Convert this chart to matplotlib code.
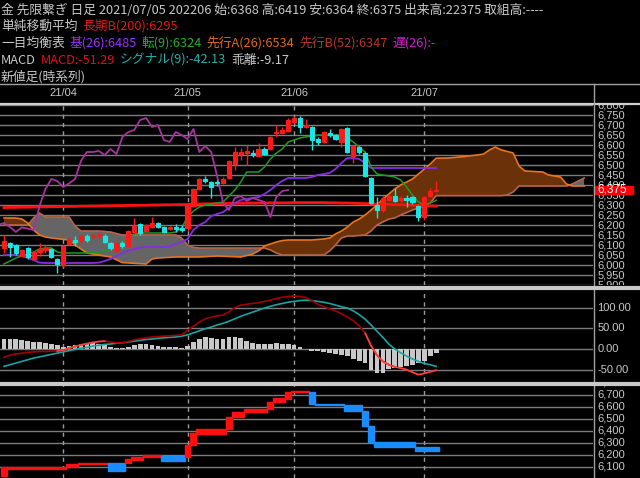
import matplotlib
matplotlib.use("Agg")
import matplotlib.pyplot as plt
import numpy as np
from matplotlib.patches import Rectangle

W, H = 640, 478
JP = ["Noto Sans CJK JP", "DejaVu Sans"]
NUM = ["Liberation Sans", "DejaVu Sans"]

# ---- daily candles (index 0 = 2021/03/18 ... 73 = 2021/07/05)
opens = [6085, 6110, 6100, 6045, 6085, 6030, 6065, 6075, 6080, 6030,
         6000, 6105, 6125, 6120, 6145, 6140, 6145, 6145, 6110, 6070,
         6110, 6095, 6165, 6205, 6170, 6190, 6210, 6190, 6180, 6190,
         6185, 6185, 6295, 6380, 6430, 6415, 6415, 6410, 6435, 6505,
         6555, 6560, 6560, 6545, 6580, 6580, 6660, 6660, 6670, 6715,
         6735, 6690, 6690, 6630, 6615, 6660, 6650, 6615, 6685, 6545,
         6590, 6560, 6435, 6300, 6275, 6325, 6345, 6325, 6335, 6340,
         6295, 6240, 6345, 6368]
highs = [6150, 6115, 6105, 6080, 6090, 6070, 6110, 6100, 6085, 6035,
         6100, 6140, 6145, 6160, 6155, 6160, 6170, 6155, 6115, 6115,
         6120, 6175, 6235, 6210, 6205, 6240, 6215, 6195, 6195, 6205,
         6200, 6300, 6385, 6435, 6445, 6420, 6425, 6440, 6525, 6590,
         6585, 6600, 6575, 6610, 6590, 6645, 6700, 6690, 6735, 6745,
         6745, 6730, 6695, 6640, 6670, 6680, 6655, 6685, 6690, 6600,
         6595, 6565, 6440, 6340, 6345, 6355, 6385, 6345, 6350, 6345,
         6300, 6345, 6385, 6419]
lows = [6060, 6040, 6050, 6040, 6030, 6025, 6045, 6060, 6035, 5960,
        5990, 6100, 6095, 6110, 6115, 6130, 6135, 6110, 6075, 6065,
        6085, 6090, 6160, 6150, 6165, 6185, 6185, 6160, 6175, 6165,
        6165, 6170, 6290, 6375, 6410, 6335, 6395, 6405, 6430, 6475,
        6525, 6500, 6540, 6540, 6550, 6575, 6640, 6655, 6665, 6710,
        6660, 6685, 6575, 6600, 6610, 6640, 6625, 6590, 6560, 6510,
        6555, 6440, 6305, 6235, 6265, 6320, 6315, 6315, 6290, 6305,
        6220, 6225, 6340, 6364]
closes = [6120, 6090, 6060, 6075, 6040, 6065, 6080, 6085, 6040, 6005,
          6095, 6130, 6115, 6145, 6125, 6150, 6155, 6115, 6085, 6110,
          6095, 6170, 6195, 6160, 6200, 6210, 6190, 6165, 6188, 6182,
          6175, 6295, 6380, 6430, 6420, 6390, 6408, 6430, 6520, 6565,
          6565, 6570, 6550, 6580, 6555, 6640, 6665, 6675, 6725, 6735,
          6690, 6700, 6625, 6615, 6665, 6650, 6630, 6680, 6565, 6595,
          6565, 6445, 6310, 6275, 6335, 6345, 6320, 6335, 6325, 6315,
          6240, 6340, 6370, 6375]

sma200 = [6287, 6288, 6288, 6289, 6289, 6290, 6290, 6291, 6291, 6292,
          6292, 6293, 6293, 6294, 6294, 6295, 6295, 6296, 6296, 6297,
          6297, 6298, 6298, 6299, 6299, 6300, 6300, 6301, 6301, 6302,
          6302, 6303, 6304, 6305, 6306, 6306, 6307, 6307, 6308, 6308,
          6309, 6309, 6310, 6310, 6310, 6311, 6311, 6311, 6311, 6312,
          6312, 6312, 6312, 6312, 6312, 6311, 6311, 6310, 6310, 6309,
          6308, 6307, 6306, 6305, 6304, 6303, 6302, 6301, 6300, 6299,
          6298, 6297, 6296, 6295]
tenkan = [6005, 6020, 6035, 6045, 6055, 6065, 6080, 6085, 6085, 6065,
          6060, 6060, 6060, 6060, 6060, 6062, 6065, 6070, 6080, 6090,
          6115, 6135, 6155, 6160, 6160, 6160, 6160, 6160, 6160, 6165,
          6185, 6240, 6270, 6290, 6300, 6305, 6310, 6315, 6345, 6375,
          6415, 6465, 6465, 6465, 6490, 6530, 6560, 6580, 6615, 6625,
          6635, 6640, 6645, 6650, 6650, 6650, 6650, 6650, 6635, 6615,
          6590, 6565, 6490, 6455, 6450, 6445, 6440, 6425, 6390, 6350,
          6315, 6300, 6310, 6324]
kijun = [6050, 6050, 6050, 6045, 6035, 6025, 6012, 6010, 6010, 6010,
         6010, 6010, 6010, 6010, 6010, 6010, 6012, 6020, 6030, 6045,
         6060, 6072, 6080, 6088, 6090, 6090, 6090, 6090, 6095, 6105,
         6115, 6130, 6175, 6200, 6215, 6245, 6255, 6265, 6285, 6310,
         6325, 6330, 6335, 6340, 6355, 6375, 6400, 6420, 6435, 6435,
         6435, 6435, 6440, 6450, 6455, 6460, 6480, 6510, 6535, 6535,
         6530, 6510, 6485, 6485, 6485, 6485, 6485, 6485, 6485, 6485,
         6485, 6485, 6485, 6485]

# leading spans (already placed 25 days ahead)
cloud_day = [0, 2, 3, 4, 5, 6, 7, 8, 10, 11, 12, 13, 14, 16, 18, 20, 24, 25, 26, 29,
             30, 31, 32, 33, 36, 40, 42, 43, 44, 45, 46, 47, 48, 52, 54, 55, 56, 57, 58, 59,
             60, 61, 62, 63, 64, 65, 66, 67, 68, 69, 70, 71, 72, 73, 75, 77, 80, 81, 82, 83,
             84, 85, 86, 87, 88, 91, 92, 94, 95, 96, 97, 98]
span_a = [6235, 6235, 6230, 6210, 6175, 6150, 6140, 6135, 6128, 6125, 6100, 6080, 6060, 6050, 6040, 6012, 6005, 6030, 6035, 6040,
          6040, 6040, 6040, 6040, 6045, 6040, 6055, 6070, 6095, 6105, 6115, 6122, 6125, 6125, 6130, 6135, 6155, 6170, 6190, 6215,
          6230, 6250, 6275, 6300, 6330, 6355, 6380, 6400, 6415, 6430, 6455, 6480, 6505, 6534, 6535, 6540, 6550, 6555, 6575, 6590,
          6575, 6568, 6560, 6495, 6470, 6465, 6450, 6440, 6405, 6395, 6395, 6395]
span_b = [6200, 6200, 6200, 6200, 6235, 6260, 6240, 6240, 6240, 6240, 6195, 6170, 6170, 6170, 6165, 6150, 6150, 6150, 6150, 6150,
          6135, 6100, 6088, 6085, 6085, 6085, 6085, 6085, 6085, 6075, 6060, 6050, 6050, 6050, 6050, 6070, 6100, 6135, 6145, 6145,
          6148, 6150, 6170, 6200, 6215, 6230, 6235, 6250, 6262, 6275, 6285, 6295, 6310, 6347, 6347, 6347, 6347, 6347, 6347, 6347,
          6347, 6350, 6365, 6395, 6395, 6395, 6395, 6395, 6395, 6405, 6420, 6435]

# MACD panel
macd = [-20, -15, -12, -10, -8, -7, -6, -6, -5, -5,
        -3, 2, 6, 10, 13, 16, 18, 19, 17, 15,
        15, 18, 22, 25, 27, 29, 30, 31, 32, 33,
        34, 45, 55, 65, 73, 77, 80, 82, 90, 100,
        106, 108, 110, 112, 115, 118, 122, 125, 127, 128,
        127, 124, 117, 108, 102, 97, 92, 85, 77, 68,
        56, 38, 8, -15, -30, -38, -43, -46, -50, -56,
        -62, -59, -55, -51.29]
signal = [-42, -38, -34, -30, -26, -22, -19, -16, -13, -10,
          -7, -4, -1, 2, 4, 7, 9, 11, 12, 14,
          15, 17, 19, 21, 23, 24, 26, 27, 28, 29,
          31, 34, 39, 44, 49, 53, 58, 62, 67, 73,
          79, 84, 89, 94, 99, 103, 107, 110, 113, 115,
          117, 118, 117, 115, 113, 110, 106, 102, 99, 92,
          83, 72, 58, 43, 28, 12, 0, -9, -17, -24,
          -30, -35, -38, -42.13]
hist = [24, 24, 23, 21, 19, 18, 16, 15, 13, 9,
        4, 7, 10, 12, 14, 14, 13, 9, 6, 3,
        2, 5, 10, 11, 11, 10, 8, 6, 5, 4,
        3, 8, 18, 25, 28, 26, 24, 25, 28, 29,
        26, 20, 14, 12, 13, 13, 14, 13, 12, 10,
        5, 0, -4, -6, -8, -10, -12, -14, -17, -25,
        -30, -35, -50, -57, -58, -48, -45, -44, -42, -38,
        -35, -28, -18, -9.17]

# new-price chart (time series): segments of days with from/to prices
nb_start = [0, 1, 11, 13, 18, 21, 22, 24, 27, 31, 32, 33, 38, 39, 41, 45, 46, 48, 49, 52, 53, 58, 61, 62, 63, 70]
nb_end = [0, 10, 12, 17, 20, 21, 23, 26, 30, 31, 32, 37, 38, 40, 44, 45, 47, 48, 51, 52, 57, 60, 61, 62, 69, 73]
nb_from = [6025, 6080, 6100, 6125, 6135, 6135, 6160, 6185, 6190, 6185, 6285, 6375, 6415, 6515, 6560, 6580, 6645, 6670, 6725,
           6725, 6625, 6620, 6565, 6445, 6310, 6270]
nb_to = [6100, 6100, 6125, 6135, 6065, 6165, 6185, 6200, 6150, 6285, 6380, 6415, 6515, 6560, 6580, 6645, 6675, 6725, 6735,
         6625, 6615, 6565, 6445, 6305, 6270, 6230]

month_idx = [10, 31, 49, 71]
month_lbl = ["21/04", "21/05", "21/06", "21/07"]

fig = plt.figure(figsize=(6.4, 4.78), dpi=100, facecolor="black")
XL = (-4 / 5.92, 589 / 5.92)
GRID = "#7c7c7c"
LBL = "#c8c8c8"


def px_axes(x0, y0, x1, y1):
    ax = fig.add_axes([x0 / W, 1 - y1 / H, (x1 - x0) / W, (y1 - y0) / H])
    ax.set_facecolor("black")
    for s in ax.spines.values():
        s.set_visible(False)
    ax.set_xticks([])
    ax.set_yticks([])
    return ax


days = np.arange(len(closes))

# ---- price panel
price = px_axes(0, 104, 593, 285)
price.set_xlim(XL)
price.set_ylim(5900, 6805)
for p in range(5900, 6801, 50):
    price.axhline(p, color=GRID, lw=1, zorder=0)
for m in month_idx:
    price.axvline(m, color="#9a9a9a", lw=1, ls=(0, (3, 3)), zorder=1)

cd = np.array(cloud_day)
ca = np.array(span_a)
cb = np.array(span_b)
price.fill_between(cd, ca, cb, where=ca >= cb, interpolate=True, color="#6b3108", lw=0, zorder=2)
price.fill_between(cd, ca, cb, where=ca < cb, interpolate=True, color="#656565", lw=0, zorder=2)
price.plot(cd, cb, color="#b8644a", lw=1.2, zorder=3)
price.plot(cd, ca, color="#e8741e", lw=1.2, zorder=3)

price.plot(days, sma200, color="#ff1010", lw=2, zorder=4)
price.plot(days, kijun, color="#8a2be2", lw=1.3, zorder=4)
price.plot(days, tenkan, color="#1f9a1f", lw=1.1, zorder=4)
price.plot(days - 25, closes, color="#a8329e", lw=1.3, zorder=4)

o = np.array(opens)
c = np.array(closes)
up = c >= o
cols = np.where(up, "#ff1a1a", "#1ae6e6")
price.vlines(days, lows, highs, colors=cols, lw=1, zorder=5)
price.bar(days, np.abs(c - o), bottom=np.minimum(o, c), width=0.7, color=cols,
          edgecolor=cols, lw=0.8, zorder=6)

# ---- MACD panel
mac = px_axes(0, 290, 593, 381)
mac.set_xlim(XL)
mac.set_ylim(-77.3, 142.5)
for v in [100, 50, 0, -50]:
    mac.axhline(v, color=GRID, lw=1, zorder=0)
for m in month_idx:
    mac.axvline(m, color="#9a9a9a", lw=1, ls=(0, (3, 3)), zorder=1)
mac.bar(days, hist, width=0.8, color="#c8c8c8", zorder=2)
mac.plot(days, signal, color="#1aa3a3", lw=1.2, zorder=3)
mac.plot(days, macd, color="#a00000", lw=1.2, zorder=4)
mac.plot(days[9:18], macd[9:18], color="#ff4040", lw=1.2, zorder=4)
mac.plot(days[61:], macd[61:], color="#ff4040", lw=1.2, zorder=4)

# ---- new-price panel
nb = px_axes(0, 385, 593, 478)
nb.set_xlim(XL)
nb.set_ylim(6008, 6783)
for p in range(6100, 6801, 100):
    nb.axhline(p, color=GRID, lw=1, zorder=0)
for m in month_idx:
    nb.axvline(m, color="#9a9a9a", lw=1, ls=(0, (3, 3)), zorder=1)
for s, e, f, t in zip(nb_start, nb_end, nb_from, nb_to):
    col = "#ff1010" if t > f else "#1a8cff"
    nb.bar(s - 0.5, abs(t - f), width=e - s + 1, bottom=min(f, t), align="edge",
           color=col, edgecolor=col, lw=1, zorder=3)

# ---- right-hand scales
ps = px_axes(593, 104, 640, 285)
ps.set_xlim(0, 1)
ps.set_ylim(5900, 6805)
for p in range(5900, 6801, 50):
    if p in (6350, 6400):
        # partly covered by the last-price box
        ps.text(0.09, p, f"{p:,}", color=LBL, fontsize=8, va="center", ha="left",
                family=NUM, clip_on=True, zorder=1)
        continue
    ps.text(0.09, p, f"{p:,}", color=LBL, fontsize=8, va="center", ha="left",
            family=NUM, clip_on=True)
ps.add_patch(Rectangle((0.02, 6356), 0.83, 38, color="#ff0000", zorder=5))
ps.text(0.1, 6375, "6,375", color="white", fontsize=8.5, va="center", ha="left",
        family=NUM, zorder=6)

ms = px_axes(593, 290, 640, 381)
ms.set_xlim(0, 1)
ms.set_ylim(-77.3, 142.5)
for v in [100, 50, 0, -50]:
    ms.text(0.09, v, f"{v:.2f}", color=LBL, fontsize=8, va="center", ha="left",
            family=NUM, clip_on=True)

ns = px_axes(593, 385, 640, 478)
ns.set_xlim(0, 1)
ns.set_ylim(6008, 6783)
for p in range(6100, 6801, 100):
    ns.text(0.09, p, f"{p:,}", color=LBL, fontsize=8, va="center", ha="left",
            family=NUM, clip_on=True)

# ---- date row
dr = px_axes(0, 84, 593, 103)
dr.set_xlim(XL)
dr.set_ylim(0, 1)
for m, s in zip(month_idx, month_lbl):
    dr.text(m, 0.5, s, color=LBL, fontsize=8, ha="center", va="center", family=NUM)

# ---- overlay: frame lines and header
hdr = fig.add_axes([0, 0, 1, 1])
hdr.set_axis_off()
hdr.set_xlim(0, W)
hdr.set_ylim(H, 0)
hdr.plot([0, W], [83.5, 83.5], color="#a0a0a0", lw=1)
hdr.plot([0, W], [103.5, 103.5], color="#d0d0d0", lw=1.6)
hdr.plot([593.5, 593.5], [83.5, H], color="#a0a0a0", lw=1)
hdr.plot([0, W], [287.5, 287.5], color="#c8c8c8", lw=3)
hdr.plot([0, W], [383.5, 383.5], color="#c8c8c8", lw=3)

FS = 9.2
header = [
    (10.5, [("金 先限繋ぎ 日足 2021/07/05 202206 始:6368 高:6419 安:6364 終:6375 出来高:22375 取組高:----", LBL)]),
    (26, [("単純移動平均", LBL), ("長期B(200):6295", "#e01818")]),
    (43, [("一目均衡表", LBL), ("基(26):6485", "#9b30ff"), ("転(9):6324", "#22b022"),
          ("先行A(26):6534", "#e06a10"), ("先行B(52):6347", "#b03a28"), ("遅(26):-", "#d020d0")]),
    (60, [("MACD", LBL), ("MACD:-51.29", "#e01010"), ("シグナル(9):-42.13", "#20b0b0"),
          ("乖離:-9.17", LBL)]),
    (76.5, [("新値足(時系列)", LBL)]),
]
for y, parts in header:
    t = hdr.text(1, y, parts[0][0], color=parts[0][1], fontsize=FS, family=JP,
                 va="center", ha="left")
    for s, col in parts[1:]:
        t = hdr.annotate(s, xy=(1, 0), xycoords=t, xytext=(3.5, 0), textcoords="offset points",
                         va="bottom", ha="left", color=col, fontsize=FS, family=JP)

fig.savefig("out.png", dpi=100, facecolor="black")
